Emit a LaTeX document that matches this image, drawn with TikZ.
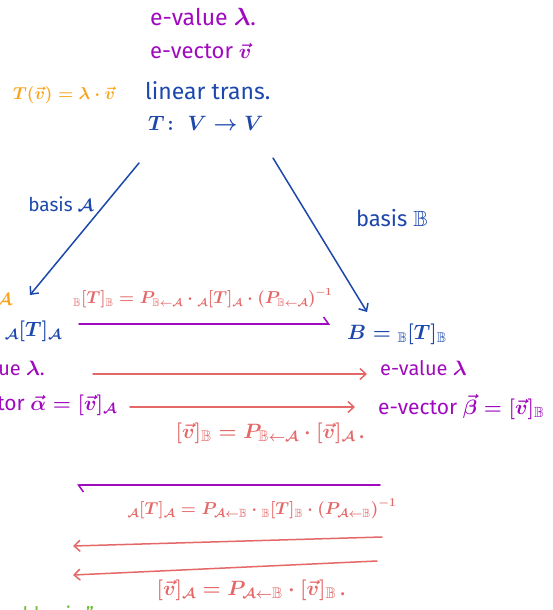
\documentclass[tikz,border=0pt]{standalone}
\usepackage{amsmath, amssymb}
\usepackage{fontspec}
\setmainfont{Fira Sans}
\usetikzlibrary{arrows.meta}
\definecolor{inkblue}{RGB}{28, 72, 172}
\definecolor{inkpurple}{RGB}{160, 10, 190}
\definecolor{inkred}{RGB}{228, 104, 104}
\definecolor{inkorange}{RGB}{250, 162, 24}
\definecolor{inkgreen}{RGB}{110, 190, 50}
\newcommand{\basA}{\mathcal{A}}
\newcommand{\basB}{\mathbb{B}}

\begin{document}
\begin{tikzpicture}[
  x=1pt, y=-1pt,
  every node/.style={inner sep=0pt},
  fsz/.style={font=\fontsize{#1}{#1}\selectfont\boldmath},
  blueink/.style={text=inkblue},
  purpleink/.style={text=inkpurple},
  redink/.style={text=inkred},
  orangeink/.style={text=inkorange},
  greenink/.style={text=inkgreen},
  penline/.style={line width=1.5pt, line cap=round},
  >={Straight Barb[length=6pt, width=11pt]}
]
  \useasboundingbox (0,0) rectangle (552,610);
  \clip (0,0) rectangle (552,610);

  % the transformation
  \node[purpleink, fsz=23, anchor=west] (eval) at (150,17) {e-value $\lambda$.};
  \node[purpleink, fsz=22, anchor=west] (evec) at (150,51) {e-vector $\vec{v}$};
  \node[orangeink, fsz=18, anchor=west] (eigeq) at (13,95) {$T(\vec{v})=\lambda\cdot\vec{v}$};
  \node[blueink, fsz=23, anchor=west] (lin) at (145,91) {linear trans.};
  \node[blueink, fsz=22, anchor=west] (tvv) at (148,123) {$T\colon\ V \to V$};

  % the two bases
  \node[blueink, fsz=19] (basisA) at (61,204) {basis $\basA$};
  \node[blueink, fsz=22] (basisB) at (392,218) {basis $\basB$};
  \coordinate (topA) at (139,163);
  \coordinate (endA) at (30,295);
  \coordinate (topB) at (273,158);
  \coordinate (endB) at (367,312);
  \draw[penline, inkblue, ->] (topA) -- (endA);
  \draw[penline, inkblue, ->] (topB) -- (endB);

  % matrices
  \node[orangeink, fsz=18] (oA) at (4,300) {$\basA$};
  \node[blueink, fsz=22, anchor=east] (matA) at (62,331) {$A = {}_{\basA}[T]_{\basA}$};
  \node[blueink, fsz=20, anchor=west] (matB) at (347,334) {$B = {}_{\basB}[T]_{\basB}$};
  \node[redink, fsz=16, anchor=west] (simB) at (73,298)
    {${}_{\basB}[T]_{\basB} = P_{\basB\leftarrow\basA}\cdot{}_{\basA}[T]_{\basA}\cdot\left(P_{\basB\leftarrow\basA}\right)^{-1}$};
  \coordinate (toBs) at (79,324);
  \coordinate (toBe) at (330,324);
  \draw[penline, inkpurple, -{Straight Barb[harpoon, length=5pt, width=14pt]}] (toBs) -- (toBe);

  % eigen data in both bases
  \node[purpleink, fsz=20, anchor=east] (evalA) at (45,368) {e-value $\lambda$.};
  \node[purpleink, fsz=21, anchor=east] (evecA) at (117,405) {e-vector $\vec{\alpha}=[\vec{v}]_{\basA}$};
  \node[purpleink, fsz=20, anchor=west] (evalB) at (380,368) {e-value $\lambda$};
  \node[purpleink, fsz=21, anchor=west] (evecB) at (378,407) {e-vector $\vec{\beta}=[\vec{v}]_{\basB}$};
  \coordinate (r1s) at (93,374);
  \coordinate (r1e) at (367,374);
  \coordinate (r2s) at (130,407);
  \coordinate (r2e) at (355,407);
  \draw[penline, inkred, ->] (r1s) -- (r1e);
  \draw[penline, inkred, ->] (r2s) -- (r2e);
  \node[redink, fsz=22] (coordB) at (270,433)
    {$[\vec{v}]_{\basB} = P_{\basB\leftarrow\basA}\cdot[\vec{v}]_{\basA}$\,.};

  % back to A
  \coordinate (toAs) at (380,485);
  \coordinate (toAe) at (77,485);
  \draw[penline, inkpurple, -{Straight Barb[harpoon, length=5pt, width=14pt]}] (toAs) -- (toAe);
  \node[redink, fsz=17] (simA) at (262,509)
    {${}_{\basA}[T]_{\basA} = P_{\basA\leftarrow\basB}\cdot{}_{\basB}[T]_{\basB}\cdot\left(P_{\basA\leftarrow\basB}\right)^{-1}$};
  \coordinate (l1s) at (382,537);
  \coordinate (l1e) at (73,546);
  \coordinate (l2s) at (377,561);
  \coordinate (l2e) at (73,575);
  \draw[penline, inkred, ->] (l1s) -- (l1e);
  \draw[penline, inkred, ->] (l2s) -- (l2e);
  \node[redink, fsz=22] (coordA) at (251,590)
    {$[\vec{v}]_{\basA} = P_{\basA\leftarrow\basB}\cdot[\vec{v}]_{\basB}$\,.};
  \node[greenink, fsz=20, anchor=west] (note) at (-6,614) {real basis ''};
\end{tikzpicture}
\end{document}
